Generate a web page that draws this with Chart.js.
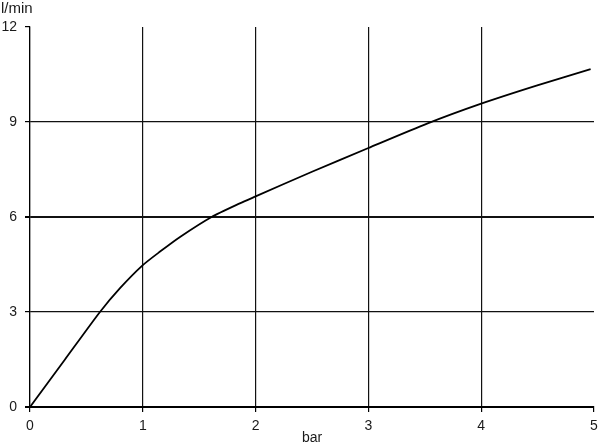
<!DOCTYPE html>
<html>
<head>
<meta charset="utf-8">
<script src="https://cdn.jsdelivr.net/npm/chart.js@4/dist/chart.umd.min.js"></script>
<style>
  html, body { margin: 0; padding: 0; background: #fff; }
  #wrap { width: 600px; height: 447px; }
</style>
</head>
<body>
<div id="wrap"><canvas id="chart" width="600" height="447"></canvas></div>
<script>
// =========================
// DATA
// =========================

const pressure = [0, 0.31, 0.62, 0.8, 1, 1.15, 1.33, 1.61, 1.86, 2, 2.5, 3, 3.52, 4, 4.49, 4.97];
const flow     = [0, 1.5, 3, 3.76, 4.48, 4.9, 5.37, 6, 6.43, 6.65, 7.43, 8.18, 8.95, 9.58, 10.15, 10.67];

const xTicks = [0, 1, 2, 3, 4, 5];
const yTicks = [0, 3, 6, 9, 12];

const xLabel = "bar";
const yLabel = "l/min";


// =========================
// HELPERS
// =========================

const points = pressure.map((p, i) => ({ x: p, y: flow[i] }));
const FONT = "Liberation Sans, Arial, sans-serif";
const tickFont = { family: FONT, size: 14 };

// unit label drawn above the y axis
const unitLabel = {
  id: "unitLabel",
  afterDraw(chart) {
    const ctx = chart.ctx;
    ctx.save();
    ctx.font = "15px " + FONT;
    ctx.fillStyle = "#1a1a1a";
    ctx.textBaseline = "middle";
    ctx.textAlign = "left";
    ctx.fillText(yLabel, 1, 9);
    ctx.restore();
  }
};


// =========================
// RENDER
// =========================

new Chart(document.getElementById("chart").getContext("2d"), {
  type: "scatter",
  data: {
    datasets: [{
      data: points,
      showLine: true,
      borderColor: "#000",
      borderWidth: 1.8,
      pointRadius: 0,
      tension: 0.22
    }]
  },
  options: {
    responsive: false,
    animation: false,
    layout: { padding: { top: 27, right: 6, left: 0, bottom: 0 } },
    plugins: {
      legend: { display: false },
      tooltip: { enabled: false }
    },
    scales: {
      x: {
        type: "linear",
        min: 0,
        max: 5,
        afterBuildTicks: s => { s.ticks = xTicks.map(v => ({ value: v })); },
        afterFit: s => { s.height = 40; s.paddingLeft = 0; s.paddingRight = 0; },
        border: { color: "#000", width: 2 },
        grid: {
          color: c => (c.tick && c.tick.value === 5) ? "rgba(0,0,0,0)" : "#111",
          lineWidth: 1.2,
          tickColor: "#000",
          tickLength: 5
        },
        ticks: { color: "#1a1a1a", font: tickFont, padding: 6, maxRotation: 0 },
        title: {
          display: true,
          text: xLabel,
          color: "#1a1a1a",
          font: { family: FONT, size: 14 },
          padding: { top: 0, bottom: 0 }
        }
      },
      y: {
        type: "linear",
        min: 0,
        max: 12,
        afterBuildTicks: s => { s.ticks = yTicks.map(v => ({ value: v })); },
        afterFit: s => { s.width = 30; s.paddingTop = 0; s.paddingBottom = 0; },
        border: { color: "#000", width: 1.2 },
        grid: {
          color: c => (c.tick && c.tick.value === 12) ? "rgba(0,0,0,0)" : "#111",
          lineWidth: c => (c.tick && (c.tick.value === 6 || c.tick.value === 0)) ? 2 : 1.2,
          tickColor: "#000",
          tickLength: 5
        },
        ticks: { color: "#1a1a1a", font: tickFont, padding: 8 }
      }
    }
  },
  plugins: [unitLabel]
});
</script>
</body>
</html>
